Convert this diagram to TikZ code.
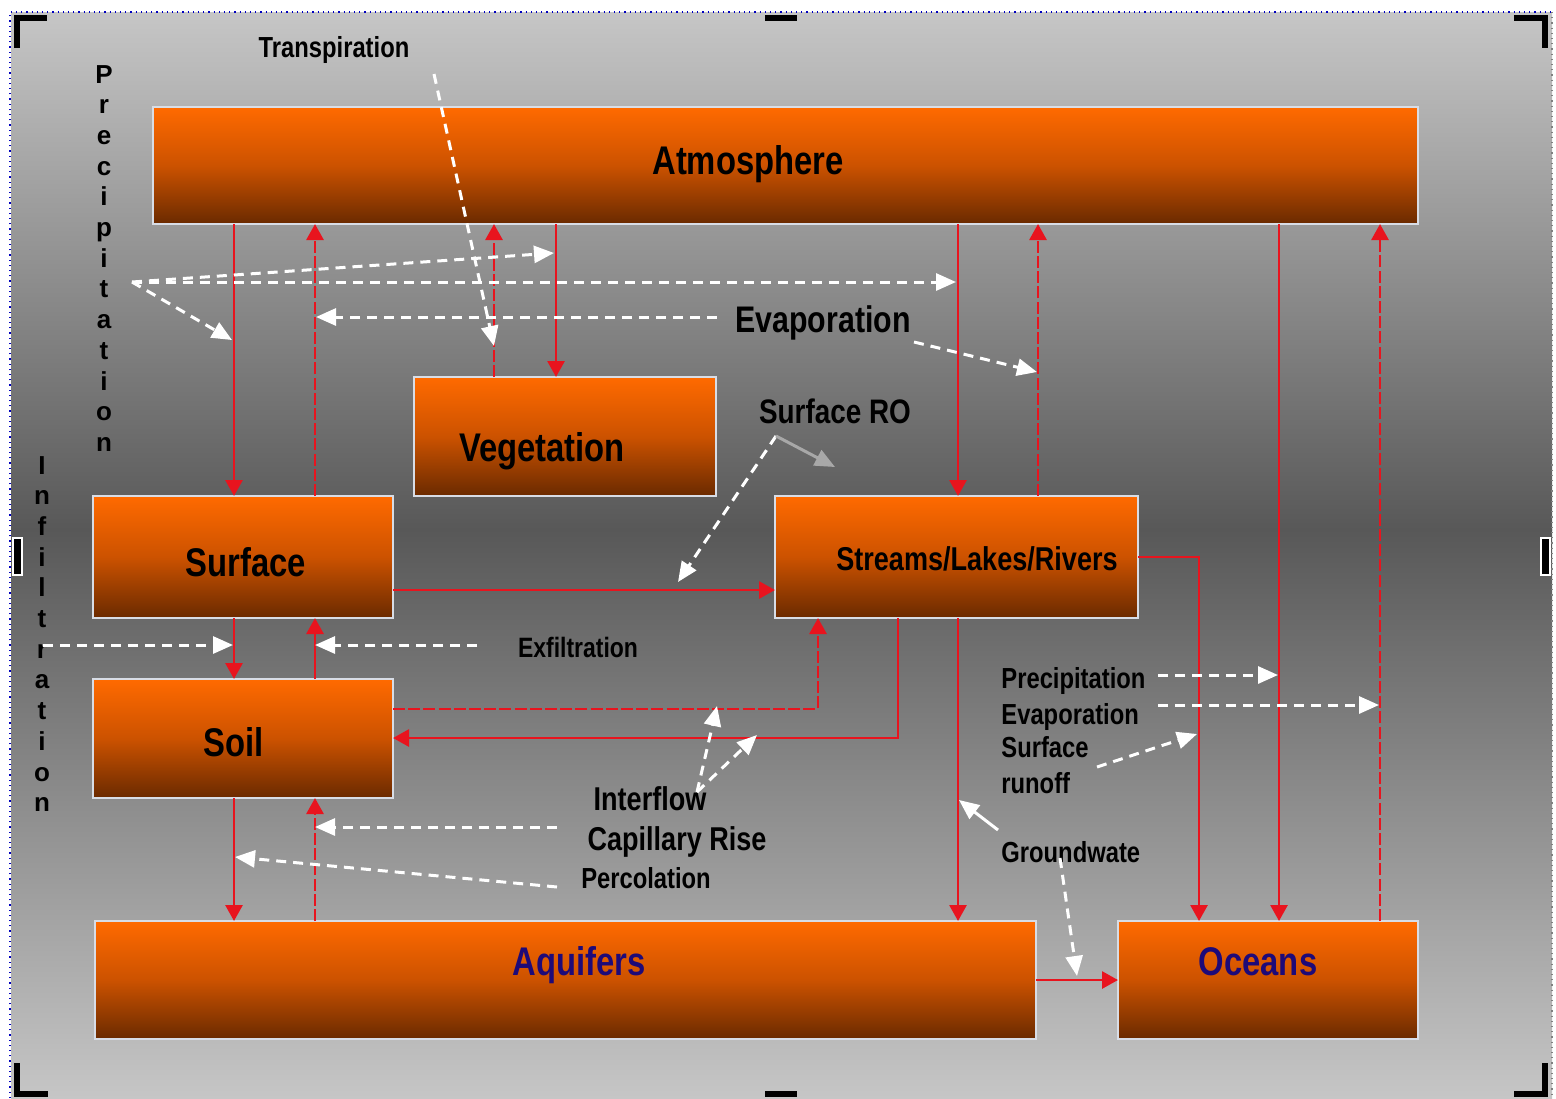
\documentclass[tikz,border=0pt]{standalone}
\usepackage{fontspec}
\setmainfont{Liberation Sans}[FakeStretch=0.82]
\newfontfamily\vfont{Liberation Sans}
\usetikzlibrary{arrows.meta,fit}
\definecolor{bgl}{HTML}{C6C6C6}
\definecolor{bgd}{HTML}{585858}
\definecolor{boxT}{HTML}{FF6A00}
\definecolor{boxM}{HTML}{CC5200}
\definecolor{boxB}{HTML}{6A2A00}
\definecolor{rline}{HTML}{E8141E}
\definecolor{navy}{HTML}{1E0A78}
\definecolor{edgec}{HTML}{D8DDE6}
\definecolor{grayarrow}{HTML}{A8A8A8}
\begin{document}
\begin{tikzpicture}[x=0.5pt,y=-0.5pt,
  box/.style={draw=edgec, line width=0.6pt, top color=boxT, bottom color=boxB, middle color=boxM, inner sep=0pt, outer sep=0pt},
  btext/.style={font=\bfseries\fontsize{20}{22}\selectfont, inner sep=0pt, anchor=base},
  lbl/.style={font=\bfseries\fontsize{14.5}{16}\selectfont, inner sep=0pt, anchor=base},
  rlbl/.style={font=\bfseries\fontsize{14.5}{16}\selectfont, inner sep=0pt, anchor=base west},
  vl/.style={font=\vfont\bfseries\fontsize{13}{14}\selectfont, inner sep=0pt, anchor=base},
  rl/.style={draw=rline, line width=1.4pt, -{Triangle[length=8pt,width=8.5pt]}},
  rd/.style={rl, dash pattern=on 6pt off 1.6pt},
  wd/.style={draw=white, line width=1.5pt, dash pattern=on 5pt off 3.5pt, -{Triangle[length=10pt,width=8.5pt]}},
  ws/.style={draw=white, line width=1.5pt, -{Triangle[length=10pt,width=8.5pt]}},
  gs/.style={draw=grayarrow, line width=1.5pt, -{Triangle[length=10pt,width=8.5pt]}}
]
\useasboundingbox (0,0) rectangle (1556,1098);
\fill[white] (0,0) rectangle (1556,1098);
% background
\shade[top color=bgl, bottom color=bgd] (11,12) rectangle (1552,530);
\shade[top color=bgd, bottom color=bgl] (11,529) rectangle (1552,1098);
\draw[blue!75!black, dotted, line width=0.6pt] (10,1098) -- (10,12) -- (1552,12);
\draw[gray, dotted, line width=0.6pt] (1552,12) -- (1552,1098);
% selection handles
\fill (14,15) rectangle (47,21); \fill (14,15) rectangle (20,48);
\fill (1514,15) rectangle (1548,21); \fill (1542,15) rectangle (1548,48);
\fill (14,1091) rectangle (48,1097); \fill (14,1063) rectangle (20,1097);
\fill (1514,1091) rectangle (1548,1097); \fill (1542,1063) rectangle (1548,1097);
\fill (765,15) rectangle (797,21);
\fill (765,1091) rectangle (797,1097);
\filldraw[fill=black, draw=white, line width=0.8pt] (13,538) rectangle (22,575);
\filldraw[fill=black, draw=white, line width=0.8pt] (1541,538) rectangle (1550,575);

% boxes
\node[box, fit={(153,107) (1418,224)}] (atm) {};
\node[box, fit={(414,377) (716,496)}] (veg) {};
\node[box, fit={(93,496) (393,618)}] (surf) {};
\node[box, fit={(775,496) (1138,618)}] (str) {};
\node[box, fit={(93,679) (393,798)}] (soil) {};
\node[box, fit={(95,921) (1036,1039)}] (aq) {};
\node[box, fit={(1118,921) (1418,1039)}] (oc) {};

\node[btext] (atmT) at (748,174) {Atmosphere};
\node[btext] (vegT) at (542,461) {Vegetation};
\node[btext] (surfT) at (246,576) {Surface};
\node[btext, font=\bfseries\fontsize{16.5}{18}\selectfont] (strT) at (977,570) {Streams/Lakes/Rivers};
\node[btext] (soilT) at (234,756) {Soil};
\node[btext, text=navy] (aqT) at (579,975) {Aquifers};
\node[btext, text=navy] (ocT) at (1258,975) {Oceans};

% red solid flows
\draw[rl] (atm.south -| 234,0) -- (surf.north -| 234,0);
\draw[rl] (atm.south -| 556,0) -- (veg.north -| 556,0);
\draw[rl] (atm.south -| 958,0) -- (str.north -| 958,0);
\draw[rl] (atm.south -| 1279,0) -- (oc.north -| 1279,0);
\draw[rl] (surf.east |- 0,590) -- (str.west |- 0,590);
\draw[rl] (surf.south -| 234,0) -- (soil.north -| 234,0);
\draw[rl] (soil.south -| 234,0) -- (aq.north -| 234,0);
\draw[rl] (str.south -| 958,0) -- (aq.north -| 958,0);
\draw[rl] (str.south -| 898,0) |- (soil.east |- 0,738);
\draw[rl] (str.east |- 0,557) -| (oc.north -| 1199,0);
\draw[rl] (aq.east |- 0,980) -- (oc.west |- 0,980);
\draw[rl] (soil.north -| 315,0) -- (surf.south -| 315,0);
% red dashed flows
\draw[rd] (surf.north -| 315,0) -- (atm.south -| 315,0);
\draw[rd] (veg.north -| 494,0) -- (atm.south -| 494,0);
\draw[rd] (str.north -| 1038,0) -- (atm.south -| 1038,0);
\draw[rd] (oc.north -| 1380,0) -- (atm.south -| 1380,0);
\draw[rd] (aq.north -| 315,0) -- (soil.south -| 315,0);
\draw[rd] (soil.east |- 0,709) -| (str.south -| 818,0);

% labels
\node[lbl] (transp) at (334,57) {Transpiration};
\node[lbl, font=\bfseries\fontsize{18.5}{20}\selectfont] (evap) at (823,332) {Evaporation};
\node[lbl, font=\bfseries\fontsize{17}{19}\selectfont] (sro) at (835,423) {Surface RO};
\node[lbl, font=\bfseries\fontsize{14}{16}\selectfont] (exf) at (578,657) {Exfiltration};
\node[lbl, font=\bfseries\fontsize{16.5}{18}\selectfont] (intf) at (650,810) {Interflow};
\node[lbl, font=\bfseries\fontsize{16.5}{18}\selectfont] (cap) at (677,850) {Capillary Rise};
\node[lbl] (perc) at (646,888) {Percolation};
\node[rlbl] (prec2) at (1001,688) {Precipitation};
\node[rlbl] (evap2) at (1001,724) {Evaporation};
\node[rlbl] (sur2) at (1001,757) {Surface};
\node[rlbl] (run2) at (1001,793) {runoff};
\node[rlbl] (gw) at (1001,862) {Groundwate};

% vertical words
\foreach \l [count=\i from 0] in {P,r,e,c,i,p,i,t,a,t,i,o,n}
  \node[vl] (pv\i) at (104,83+30.7*\i) {\l};
\foreach \l [count=\i from 0] in {I,n,f,i,l,t,r,a,t,i,o,n}
  \node[vl] (iv\i) at (42,474+30.7*\i) {\l};

% white dashed flows
\coordinate (pO) at (132,282);
\coordinate (pT1) at (554,253);
\coordinate (pT2) at (956,282);
\coordinate (pT3) at (232,340);
\draw[wd] (pO) -- (pT1);
\draw[wd] (pO) -- (pT2);
\draw[wd] (pO) -- (pT3);
\coordinate (tS) at (434,74);
\coordinate (tT) at (494,346);
\draw[wd] (tS) -- (tT);
\coordinate (eS) at (717,317);
\coordinate (eT) at (316,317);
\draw[wd] (eS) -- (eT);
\coordinate (e2S) at (914,342);
\coordinate (e2T) at (1037,372);
\draw[wd] (e2S) -- (e2T);
\coordinate (sroS) at (776,436);
\coordinate (sroT) at (678,582);
\coordinate (sroG) at (835,467);
\draw[wd] (sroS) -- (sroT);
\draw[gs] (sroS) -- (sroG);
\coordinate (infS) at (43,645);
\coordinate (infT) at (233,645);
\draw[wd] (infS) -- (infT);
\coordinate (exS) at (477,645);
\coordinate (exT) at (315,645);
\draw[wd] (exS) -- (exT);
\coordinate (ifS) at (697,792);
\coordinate (ifT1) at (717,706);
\coordinate (ifT2) at (757,735);
\draw[wd] (ifS) -- (ifT1);
\draw[wd] (ifS) -- (ifT2);
\coordinate (crS) at (557,827);
\coordinate (crT) at (315,827);
\draw[wd] (crS) -- (crT);
\coordinate (peS) at (557,887);
\coordinate (peT) at (235,857);
\draw[wd] (peS) -- (peT);
\coordinate (p2S) at (1158,675);
\coordinate (p2T) at (1278,675);
\draw[wd] (p2S) -- (p2T);
\coordinate (ev2S) at (1158,705);
\coordinate (ev2T) at (1379,705);
\draw[wd] (ev2S) -- (ev2T);
\coordinate (srS) at (1097,767);
\coordinate (srT) at (1197,734);
\draw[wd] (srS) -- (srT);
\coordinate (gwS) at (998,830);
\coordinate (gwT) at (959,800);
\draw[ws] (gwS) -- (gwT);
\coordinate (gw2S) at (1060,858);
\coordinate (gw2T) at (1077,976);
\draw[wd] (gw2S) -- (gw2T);
\end{tikzpicture}
\end{document}
